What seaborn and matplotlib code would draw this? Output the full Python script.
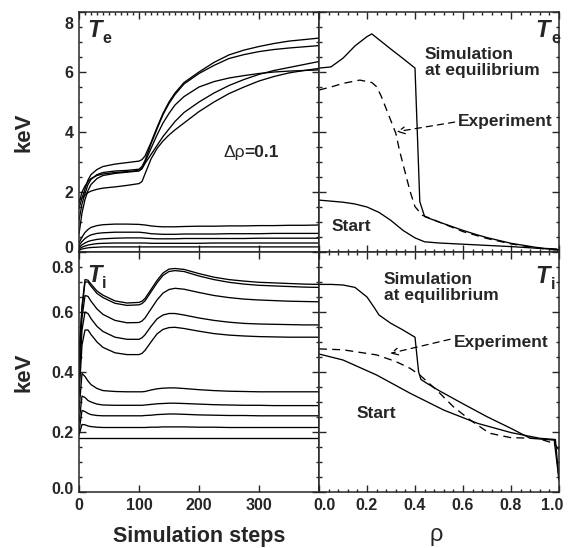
import numpy as np
import pandas as pd
import matplotlib
matplotlib.use("Agg")
import matplotlib.pyplot as plt
import matplotlib.transforms as mtransforms
from matplotlib.ticker import MultipleLocator, NullLocator
import seaborn as sns

# ---- data ----
steps = [0, 5, 10, 15, 20, 30, 40, 60, 80, 100, 105, 110, 120, 130, 140, 150,
         160, 175, 200, 225, 250, 275, 300, 325, 350, 375, 400]

# electron temperature (keV) at rho = 0.0 ... 0.9
te_r00 = [1.73, 1.80, 1.90, 1.98, 2.03, 2.09, 2.13, 2.17, 2.22, 2.28, 2.35, 2.60, 3.10, 3.45,
          3.70, 3.90, 4.07, 4.30, 4.68, 5.00, 5.28, 5.50, 5.70, 5.85, 5.97, 6.05, 6.12]
te_r01 = [1.63, 2.00, 2.20, 2.35, 2.45, 2.55, 2.60, 2.65, 2.68, 2.72, 2.78, 2.95, 3.25, 3.55,
          3.85, 4.10, 4.35, 4.65, 5.00, 5.30, 5.55, 5.75, 5.92, 6.05, 6.15, 6.25, 6.35]
te_r02 = [1.45, 1.80, 2.10, 2.40, 2.58, 2.75, 2.85, 2.93, 2.98, 3.03, 3.08, 3.20, 3.65, 4.15,
          4.62, 5.00, 5.30, 5.65, 6.00, 6.32, 6.57, 6.73, 6.85, 6.95, 7.03, 7.08, 7.13]
te_r03 = [1.05, 1.60, 1.95, 2.25, 2.42, 2.58, 2.65, 2.70, 2.72, 2.76, 2.85, 3.05, 3.60, 4.10,
          4.58, 4.95, 5.25, 5.60, 5.95, 6.22, 6.45, 6.58, 6.68, 6.75, 6.80, 6.84, 6.88]
te_r04 = [0.60, 1.30, 1.75, 2.05, 2.25, 2.45, 2.55, 2.62, 2.66, 2.70, 2.78, 3.00, 3.45, 3.90,
          4.30, 4.62, 4.90, 5.18, 5.50, 5.68, 5.80, 5.88, 5.95, 6.00, 6.03, 6.05, 6.07]
te_r05 = [0.30, 0.50, 0.65, 0.75, 0.82, 0.88, 0.91, 0.93, 0.93, 0.92, 0.91, 0.90, 0.87, 0.85,
          0.84, 0.84, 0.84, 0.85, 0.86, 0.86, 0.87, 0.87, 0.88, 0.88, 0.89, 0.89, 0.90]
te_r06 = [0.22, 0.35, 0.45, 0.52, 0.57, 0.62, 0.64, 0.66, 0.66, 0.66, 0.65, 0.64, 0.61, 0.60,
          0.59, 0.59, 0.59, 0.60, 0.60, 0.60, 0.61, 0.61, 0.61, 0.62, 0.62, 0.62, 0.62]
te_r07 = [0.15, 0.24, 0.30, 0.35, 0.38, 0.42, 0.44, 0.46, 0.47, 0.47, 0.47, 0.46, 0.45, 0.44,
          0.44, 0.44, 0.44, 0.45, 0.45, 0.45, 0.45, 0.45, 0.46, 0.46, 0.46, 0.46, 0.46]
te_r08 = [0.10, 0.16, 0.20, 0.23, 0.25, 0.28, 0.29, 0.30, 0.30, 0.30, 0.30, 0.30, 0.29, 0.29,
          0.29, 0.29, 0.29, 0.29, 0.29, 0.30, 0.30, 0.30, 0.30, 0.30, 0.30, 0.30, 0.30]
te_r09 = [0.06, 0.10, 0.12, 0.14, 0.15, 0.16, 0.17, 0.17, 0.17, 0.17, 0.17, 0.17, 0.17, 0.17,
          0.17, 0.17, 0.17, 0.17, 0.17, 0.17, 0.17, 0.17, 0.17, 0.17, 0.17, 0.17, 0.17]

# ion temperature (keV) at rho = 0.0 ... 0.9
ti_r00 = [0.46, 0.62, 0.708, 0.706, 0.693, 0.670, 0.656, 0.637, 0.630, 0.632, 0.636, 0.645, 0.675, 0.705,
          0.730, 0.743, 0.745, 0.742, 0.728, 0.716, 0.708, 0.703, 0.699, 0.697, 0.695, 0.693, 0.692]
ti_r01 = [0.44, 0.61, 0.700, 0.700, 0.686, 0.662, 0.648, 0.629, 0.622, 0.624, 0.628, 0.637, 0.667, 0.697,
          0.722, 0.735, 0.738, 0.735, 0.720, 0.708, 0.699, 0.693, 0.689, 0.687, 0.685, 0.683, 0.682]
ti_r02 = [0.41, 0.58, 0.655, 0.652, 0.636, 0.610, 0.592, 0.572, 0.564, 0.565, 0.570, 0.580, 0.610, 0.640,
          0.663, 0.675, 0.679, 0.676, 0.665, 0.655, 0.648, 0.643, 0.640, 0.638, 0.636, 0.635, 0.634]
ti_r03 = [0.36, 0.54, 0.600, 0.595, 0.578, 0.552, 0.535, 0.516, 0.509, 0.509, 0.514, 0.524, 0.552, 0.577,
          0.590, 0.595, 0.595, 0.590, 0.580, 0.572, 0.566, 0.562, 0.560, 0.559, 0.558, 0.557, 0.557]
ti_r04 = [0.32, 0.49, 0.540, 0.540, 0.525, 0.500, 0.482, 0.464, 0.458, 0.458, 0.462, 0.472, 0.500, 0.527,
          0.542, 0.548, 0.549, 0.545, 0.536, 0.528, 0.523, 0.520, 0.518, 0.517, 0.516, 0.516, 0.516]
ti_r05 = [0.27, 0.395, 0.385, 0.370, 0.358, 0.345, 0.338, 0.335, 0.334, 0.334, 0.334, 0.335, 0.340, 0.344,
          0.346, 0.347, 0.347, 0.345, 0.341, 0.338, 0.336, 0.335, 0.334, 0.334, 0.334, 0.334, 0.334]
ti_r06 = [0.23, 0.320, 0.315, 0.305, 0.300, 0.293, 0.290, 0.289, 0.289, 0.289, 0.289, 0.290, 0.292, 0.294,
          0.295, 0.296, 0.296, 0.295, 0.293, 0.291, 0.290, 0.289, 0.289, 0.288, 0.288, 0.288, 0.288]
ti_r07 = [0.20, 0.272, 0.268, 0.262, 0.258, 0.255, 0.254, 0.254, 0.254, 0.254, 0.254, 0.255, 0.256, 0.258,
          0.259, 0.260, 0.260, 0.259, 0.257, 0.256, 0.255, 0.255, 0.254, 0.254, 0.254, 0.254, 0.254]
ti_r08 = [0.19, 0.225, 0.224, 0.220, 0.218, 0.216, 0.215, 0.215, 0.215, 0.215, 0.215, 0.215, 0.216, 0.216,
          0.217, 0.217, 0.217, 0.217, 0.216, 0.216, 0.215, 0.215, 0.215, 0.215, 0.215, 0.215, 0.215]
ti_r09 = [0.179, 0.179, 0.179, 0.179, 0.179, 0.179, 0.179, 0.179, 0.179, 0.179, 0.179, 0.179, 0.179, 0.179,
          0.179, 0.179, 0.179, 0.179, 0.179, 0.179, 0.179, 0.179, 0.179, 0.179, 0.179, 0.179, 0.179]

rho_labels = [0.0, 0.1, 0.2, 0.3, 0.4, 0.5, 0.6, 0.7, 0.8, 0.9]

# radial profiles
rho_te_sim = [0.0, 0.05, 0.10, 0.15, 0.20, 0.22, 0.30, 0.35, 0.40, 0.42, 0.44, 0.50, 0.60, 0.66, 0.70,
              0.80, 0.90, 0.94, 0.99, 1.00]
te_sim = [6.13, 6.17, 6.46, 6.87, 7.18, 7.27, 6.76, 6.45, 6.13, 1.68, 1.18, 1.00, 0.72, 0.57, 0.48,
          0.29, 0.16, 0.12, 0.10, 0.00]
rho_te_exp = [0.0, 0.05, 0.10, 0.17, 0.22, 0.24, 0.26, 0.29, 0.32, 0.335, 0.36, 0.38, 0.40, 0.43, 0.50,
              0.60, 0.70, 0.80, 0.90, 0.97, 1.00]
te_exp = [5.40, 5.50, 5.62, 5.73, 5.65, 5.51, 5.18, 4.57, 3.96, 3.40, 2.62, 2.01, 1.51, 1.23, 1.00,
          0.68, 0.45, 0.27, 0.14, 0.08, 0.05]
rho_te_start = [0.0, 0.10, 0.15, 0.20, 0.25, 0.30, 0.35, 0.40, 0.44, 0.50, 0.60, 0.70, 0.80, 0.90, 1.00]
te_start = [1.73, 1.66, 1.60, 1.50, 1.32, 1.05, 0.72, 0.47, 0.34, 0.30, 0.26, 0.22, 0.18, 0.13, 0.08]

rho_ti_sim = [0.0, 0.05, 0.10, 0.15, 0.20, 0.23, 0.25, 0.30, 0.35, 0.40, 0.415, 0.425, 0.45, 0.50, 0.55,
              0.60, 0.70, 0.80, 0.88, 0.98, 1.00]
ti_sim = [0.692, 0.692, 0.690, 0.682, 0.650, 0.615, 0.590, 0.562, 0.540, 0.516, 0.400, 0.375, 0.362,
          0.338, 0.316, 0.294, 0.251, 0.212, 0.179, 0.173, 0.040]
rho_ti_exp = [0.0, 0.10, 0.24, 0.32, 0.38, 0.42, 0.49, 0.56, 0.63, 0.71, 0.80, 0.91, 0.98, 1.00]
ti_exp = [0.477, 0.474, 0.457, 0.435, 0.412, 0.390, 0.340, 0.284, 0.240, 0.196, 0.181, 0.179, 0.162, 0.140]
rho_ti_start = [0.0, 0.10, 0.24, 0.38, 0.52, 0.66, 0.80, 0.92, 0.985, 1.00]
ti_start = [0.46, 0.44, 0.39, 0.329, 0.273, 0.229, 0.198, 0.179, 0.175, 0.040]


def long_frame(curves):
    rows = {"step": [], "keV": [], "rho": []}
    for r, vals in zip(rho_labels, curves):
        rows["step"] += steps
        rows["keV"] += vals
        rows["rho"] += [r] * len(steps)
    return pd.DataFrame(rows)


te_df = long_frame([te_r00, te_r01, te_r02, te_r03, te_r04, te_r05, te_r06, te_r07, te_r08, te_r09])
ti_df = long_frame([ti_r00, ti_r01, ti_r02, ti_r03, ti_r04, ti_r05, ti_r06, ti_r07, ti_r08, ti_r09])

sns.set_theme(style="ticks")
plt.rcParams["font.family"] = ["Liberation Sans", "DejaVu Sans"]
plt.rcParams["font.weight"] = "bold"
plt.rcParams["axes.linewidth"] = 1.1

fig = plt.figure(figsize=(5.73, 5.48), dpi=100)
W, H = 573.0, 548.0
def box(x0, y0):
    return [x0 / W, 1 - (y0 + 240) / H, 240 / W, 240 / H]

ax_te = fig.add_axes(box(79, 12))
ax_ti = fig.add_axes(box(79, 252))
ax_tep = fig.add_axes(box(319, 12))
ax_tip = fig.add_axes(box(319, 252))

lw = 0.95
sns.lineplot(data=te_df, x="step", y="keV", units="rho", estimator=None, color="black",
             lw=lw, ax=ax_te, legend=False)
sns.lineplot(data=ti_df, x="step", y="keV", units="rho", estimator=None, color="black",
             lw=lw, ax=ax_ti, legend=False)

dash = (0, (6, 4))
sns.lineplot(x=rho_te_sim, y=te_sim, color="black", lw=lw, ax=ax_tep, sort=False)
sns.lineplot(x=rho_te_exp, y=te_exp, color="black", lw=lw, ax=ax_tep, sort=False, linestyle=dash)
sns.lineplot(x=rho_te_start, y=te_start, color="black", lw=lw, ax=ax_tep, sort=False)
sns.lineplot(x=rho_ti_sim, y=ti_sim, color="black", lw=lw, ax=ax_tip, sort=False)
sns.lineplot(x=rho_ti_exp, y=ti_exp, color="black", lw=lw, ax=ax_tip, sort=False, linestyle=dash)
sns.lineplot(x=rho_ti_start, y=ti_start, color="black", lw=lw, ax=ax_tip, sort=False)

# limits & ticks
for ax in (ax_te, ax_ti):
    ax.set_xlim(0, 400)
    ax.set_xticks([0, 100, 200, 300])
for ax in (ax_tep, ax_tip):
    ax.set_xlim(0, 1)
    ax.set_xticks([0.0, 0.2, 0.4, 0.6, 0.8, 1.0])
    ax.xaxis.set_minor_locator(MultipleLocator(0.04))
for ax in (ax_te, ax_tep):
    ax.set_ylim(0, 8)
    ax.set_yticks([0, 2, 4, 6, 8])
    ax.yaxis.set_minor_locator(MultipleLocator(0.5))
for ax in (ax_ti, ax_tip):
    ax.set_ylim(0, 0.8)
    ax.set_yticks([0.0, 0.2, 0.4, 0.6, 0.8])
    ax.set_yticklabels(["0.0", "0.2", "0.4", "0.6", "0.8"])
    ax.yaxis.set_minor_locator(MultipleLocator(0.05))
ax_te.xaxis.set_minor_locator(MultipleLocator(10))
ax_ti.xaxis.set_minor_locator(NullLocator())
ax_tep.set_xticklabels(["0.0", "0.2", "0.4", "0.6", "0.8", "1.0"])
ax_tip.set_xticklabels(["0.0", "0.2", "0.4", "0.6", "0.8", "1.0"])

for ax in (ax_te, ax_ti, ax_tep, ax_tip):
    ax.tick_params(which="both", direction="in", top=True, right=True, width=1.0,
                   labelsize=11.5, pad=4)
    ax.tick_params(which="major", length=5)
    ax.tick_params(which="minor", length=2.5)
    ax.set_xlabel("")
    ax.set_ylabel("")
ax_te.tick_params(axis="x", which="minor", bottom=False)
ax_te.tick_params(labelbottom=False)
ax_tep.tick_params(labelbottom=False, labelleft=False)
ax_tip.tick_params(labelleft=False)

# axis labels
ax_te.set_ylabel("keV", fontsize=16, fontweight="bold")
ax_ti.set_ylabel("keV", fontsize=16, fontweight="bold")
ax_te.yaxis.set_label_coords(-0.185, 0.5)
ax_ti.yaxis.set_label_coords(-0.185, 0.5)
ax_ti.set_xlabel("Simulation steps", fontsize=15.5, fontweight="bold")
ax_ti.xaxis.set_label_coords(0.5, -0.14)
ax_tip.set_xlabel("ρ", fontsize=17, fontweight="normal")
ax_tip.xaxis.set_label_coords(0.49, -0.135)

# panel names  T_e / T_i
def panel_name(ax, x, y, sub, ha):
    t = ax.text(x, y, "T", transform=ax.transAxes, fontsize=17, fontstyle="italic",
                fontweight="bold", ha=ha, va="baseline")
    ax.annotate(sub, xy=(1, 0), xycoords=t, xytext=(1, -1), textcoords="offset pixels",
                fontsize=11.5, fontweight="bold", ha="left", va="baseline")

panel_name(ax_te, 0.033, 0.897, "e", "left")
panel_name(ax_ti, 0.033, 0.875, "i", "left")
panel_name(ax_tep, 0.9625, 0.897, "e", "right")
panel_name(ax_tip, 0.9625, 0.872, "i", "right")

# text inside panels
fs = 12.5
d = ax_te.text(240, 3.33, "Δρ", fontsize=fs, fontweight="normal", va="center", ha="left")
ax_te.annotate("=0.1", xy=(1, 0.5), xycoords=d, fontsize=fs, fontweight="bold",
               va="center", ha="left")

ax_tep.text(0.44, 6.32, "Simulation\nat equilibrium", fontsize=fs, fontweight="bold",
            va="center", ha="left", linespacing=1.1)
ax_tep.text(0.053, 0.84, "Start", fontsize=fs, fontweight="bold", va="center", ha="left")
ax_tep.text(0.58, 4.34, "Experiment", fontsize=fs, fontweight="bold", va="center", ha="left")
ax_tep.annotate("", xy=(0.324, 4.01), xytext=(0.565, 4.33),
                arrowprops=dict(arrowstyle="->", color="black", lw=0.9, linestyle=(0, (5, 4)),
                                shrinkA=0, shrinkB=0))

ax_tip.text(0.27, 0.682, "Simulation\nat equilibrium", fontsize=fs, fontweight="bold",
            va="center", ha="left", linespacing=1.1)
ax_tip.text(0.157, 0.263, "Start", fontsize=fs, fontweight="bold", va="center", ha="left")
ax_tip.text(0.5625, 0.498, "Experiment", fontsize=fs, fontweight="bold", va="center", ha="left")
ax_tip.annotate("", xy=(0.296, 0.462), xytext=(0.546, 0.509),
                arrowprops=dict(arrowstyle="->", color="black", lw=0.9, linestyle=(0, (5, 4)),
                                shrinkA=0, shrinkB=0))

# nudge edge tick labels inward like the original
def nudge(label, dx, dy):
    off = mtransforms.ScaledTranslation(dx / 100.0, dy / 100.0, fig.dpi_scale_trans)
    label.set_transform(label.get_transform() + off)

te_labels = ax_te.get_yticklabels()
nudge(te_labels[0], 0, 5)
nudge(te_labels[-1], 0, -11)
ti_labels = ax_ti.get_yticklabels()
nudge(ti_labels[0], 0, 4)
nudge(ti_labels[-1], 0, -15)
rx = ax_tip.get_xticklabels()
nudge(rx[0], 6, 0)
nudge(rx[-1], -7, 0)

fig.savefig("out.png", dpi=100)
plt.close(fig)
